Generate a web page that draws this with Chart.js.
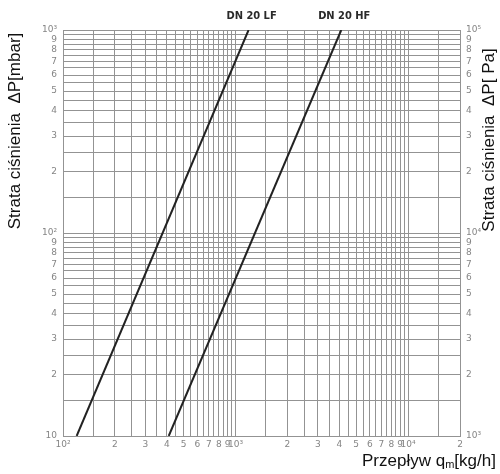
<!DOCTYPE html>
<html>
<head>
<meta charset="utf-8">
<script src="https://cdn.jsdelivr.net/npm/chart.js@4.4.1/dist/chart.umd.min.js"></script>
<style>
  html, body { margin: 0; padding: 0; background: #fff; }
  #wrap { width: 500px; height: 474px; position: relative; }
</style>
</head>
<body>
<div id="wrap"><canvas id="myChart" width="500" height="474"></canvas></div>
<script>
// curves (flow kg/h -> pressure drop mbar)
const flowLF = [120, 1190];
const dropLF = [10, 1000];
const flowHF = [410, 4100];
const dropHF = [10, 1000];
const seriesNames = ['DN 20 LF', 'DN 20 HF'];

// grid lines: every half step inside each decade
const gridSteps = [1, 1.5, 2, 2.5, 3, 3.5, 4, 4.5, 5, 5.5, 6, 6.5, 7, 7.5, 8, 8.5, 9, 9.5];
const flowDecades = [100, 1000, 10000];
const dropDecades = [10, 100];
const flowMax = 20000;
const dropMax = 1000;

const sup = { 1: '', 2: '²', 3: '³', 4: '⁴', 5: '⁵' };

function gridValues(decades, max) {
  let out = [];
  decades.forEach(d => gridSteps.forEach(s => {
    let v = Math.round(s * d * 100) / 100;
    if (v <= max) out.push(v);
  }));
  if (out[out.length - 1] !== max) out.push(max);
  return out;
}

function tickLabel(v) {
  let e = Math.floor(Math.log10(v) + 1e-9);
  let m = Math.round(v / Math.pow(10, e) * 10) / 10;
  if (m === 1) return '10' + sup[e];
  if (Number.isInteger(m)) return String(m);
  return '';
}

const xGrid = gridValues(flowDecades, flowMax);
const yGrid = gridValues(dropDecades, dropMax);
const yGridPa = yGrid.map(v => v * 100);

const gridColor = '#939393';
const tickFont = { family: 'DejaVu Sans', size: 9 };
const tickColor = '#858585';

const textPlugin = {
  id: 'texts',
  afterDraw(chart) {
    const ctx = chart.ctx;
    const xs = chart.scales.x;
    const top = chart.chartArea.top;
    ctx.save();
    // series names above the line ends
    ctx.fillStyle = '#2a2a2a';
    ctx.font = 'bold 11px "DejaVu Sans Condensed", "DejaVu Sans"';
    ctx.textAlign = 'center';
    ctx.textBaseline = 'alphabetic';
    ctx.fillText(seriesNames[0], xs.getPixelForValue(flowLF[1]) + 3, top - 11);
    ctx.fillText(seriesNames[1], xs.getPixelForValue(flowHF[1]) + 3, top - 11);

    // axis titles
    ctx.fillStyle = '#111';
    ctx.font = '17px "Liberation Sans", Arial';
    ctx.textBaseline = 'middle';
    ctx.save();
    ctx.translate(15, 131);
    ctx.rotate(-Math.PI / 2);
    ctx.fillText('Strata ciśnienia  ΔP[mbar]', 0, 0);
    ctx.restore();
    ctx.save();
    ctx.translate(489, 140);
    ctx.rotate(-Math.PI / 2);
    ctx.fillText('Strata ciśnienia  ΔP[ Pa]', 0, 0);
    ctx.restore();

    ctx.textAlign = 'left';
    ctx.textBaseline = 'alphabetic';
    let x = 362, y = 466;
    const a = 'Przepływ q';
    ctx.fillText(a, x, y);
    x += ctx.measureText(a).width;
    ctx.font = '11px "Liberation Sans", Arial';
    ctx.fillText('m', x, y + 2);
    x += ctx.measureText('m').width;
    ctx.font = '17px "Liberation Sans", Arial';
    ctx.fillText('[kg/h]', x, y);
    ctx.restore();
  }
};

const ctx = document.getElementById('myChart').getContext('2d');
const myChart = new Chart(ctx, {
  type: 'line',
  data: {
    datasets: [{
      label: seriesNames[0],
      data: flowLF.map((q, i) => ({ x: q, y: dropLF[i] })),
      borderColor: '#222',
      borderWidth: 2,
      pointRadius: 0,
      fill: false
    }, {
      label: seriesNames[1],
      data: flowHF.map((q, i) => ({ x: q, y: dropHF[i] })),
      borderColor: '#222',
      borderWidth: 2,
      pointRadius: 0,
      fill: false
    }]
  },
  options: {
    responsive: false,
    animation: false,
    layout: { padding: { top: 30, left: 0, right: 0, bottom: 0 } },
    plugins: { legend: { display: false }, tooltip: { enabled: false } },
    scales: {
      x: {
        type: 'logarithmic',
        min: 100,
        max: flowMax,
        afterBuildTicks: s => { s.ticks = xGrid.map(v => ({ value: v })); },
        afterFit: s => { s.height = 38; },
        grid: { color: gridColor, lineWidth: 1, drawTicks: false },
        border: { color: gridColor },
        ticks: {
          autoSkip: false, maxRotation: 0, padding: 3,
          font: tickFont, color: tickColor,
          callback: v => tickLabel(v)
        }
      },
      y: {
        type: 'logarithmic',
        position: 'left',
        min: 10,
        max: dropMax,
        afterBuildTicks: s => { s.ticks = yGrid.map(v => ({ value: v })); },
        afterFit: s => { s.width = 63; },
        grid: { color: gridColor, lineWidth: 1, drawTicks: false },
        border: { color: gridColor },
        ticks: {
          autoSkip: false, padding: 6,
          font: tickFont, color: tickColor,
          callback: v => tickLabel(v)
        }
      },
      y2: {
        type: 'logarithmic',
        position: 'right',
        min: 1000,
        max: 100000,
        afterBuildTicks: s => { s.ticks = yGridPa.map(v => ({ value: v })); },
        afterFit: s => { s.width = 40; },
        grid: { display: false, drawTicks: false },
        border: { color: gridColor },
        ticks: {
          autoSkip: false, padding: 6,
          font: tickFont, color: tickColor,
          callback: v => tickLabel(v)
        }
      }
    }
  },
  plugins: [textPlugin]
});
</script>
</body>
</html>
